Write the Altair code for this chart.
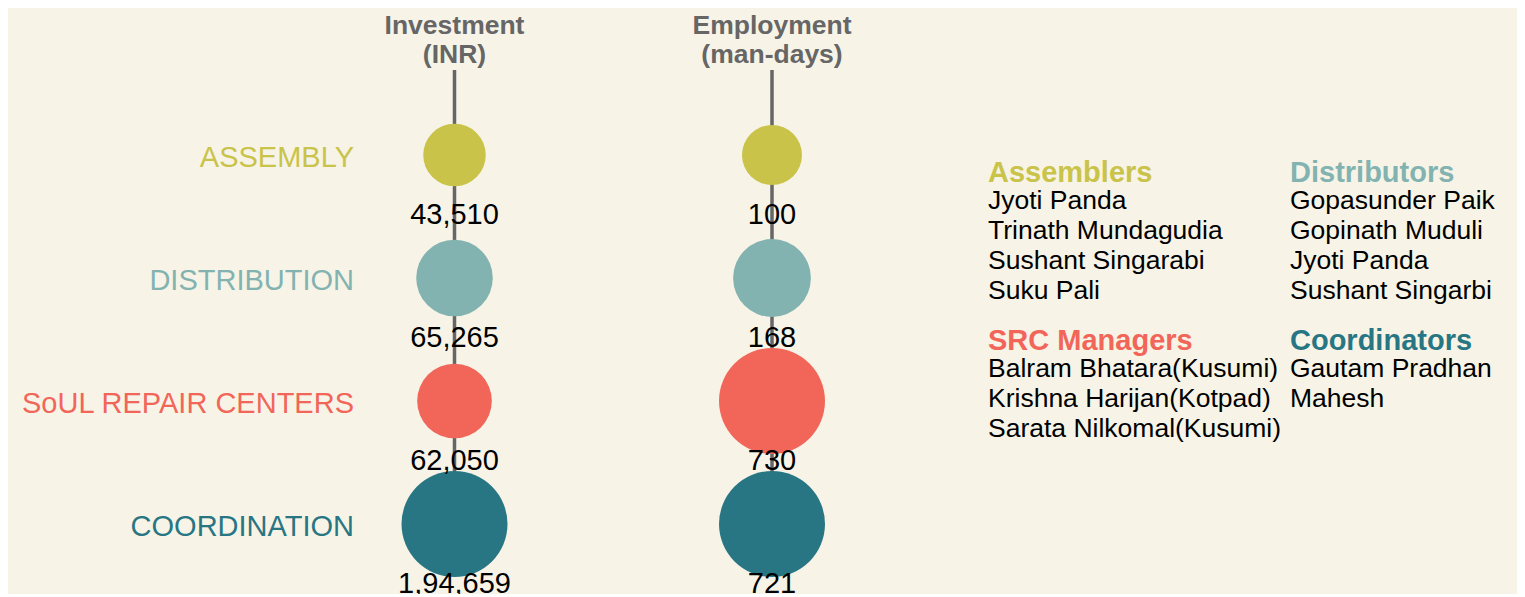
import altair as alt
import pandas as pd

# ---- data ----
categories = ["ASSEMBLY", "DISTRIBUTION", "SoUL REPAIR CENTERS", "COORDINATION"]
cat_colors = ["#c9c34a", "#83b3b0", "#f2665a", "#287683"]
metrics = ["Investment\n(INR)", "Employment\n(man-days)"]
investment = [43510, 65265, 62050, 194659]
employment = [100, 168, 730, 721]

group_titles = ["Assemblers", "Distributors", "SRC Managers", "Coordinators"]
group_category = ["ASSEMBLY", "DISTRIBUTION", "SoUL REPAIR CENTERS", "COORDINATION"]
group_members = [
    ["Jyoti Panda", "Trinath Mundagudia", "Sushant Singarabi", "Suku Pali"],
    ["Gopasunder Paik", "Gopinath Muduli", "Jyoti Panda", "Sushant Singarbi"],
    ["Balram Bhatara(Kusumi)", "Krishna Harijan(Kotpad)", "Sarata Nilkomal(Kusumi)"],
    ["Gautam Pradhan", "Mahesh"],
]


def indian_format(n):
    s = str(int(n))
    if len(s) <= 3:
        return s
    last3 = s[-3:]
    rest = s[:-3]
    parts = []
    while len(rest) > 2:
        parts.insert(0, rest[-2:])
        rest = rest[:-2]
    if rest:
        parts.insert(0, rest)
    return ",".join(parts) + "," + last3


inv_df = pd.DataFrame({"metric": metrics[0], "category": categories, "value": investment,
                       "label": [indian_format(v) for v in investment]})
emp_df = pd.DataFrame({"metric": metrics[1], "category": categories, "value": employment,
                       "label": [indian_format(v) for v in employment]})
all_df = pd.concat([inv_df, emp_df], ignore_index=True)
cat_df = pd.DataFrame({"category": categories})
met_df = pd.DataFrame({"metric": metrics, "category": categories[-1]})

BG = "#f7f4e7"
FONT = "Liberation Sans"

xs = alt.Scale(type="point", domain=metrics, range=[446.5, 764], padding=0)
ys = alt.Scale(type="point", domain=categories, range=[147, 516], padding=0)
cs = alt.Scale(domain=categories, range=cat_colors)

X = alt.X("metric:N", scale=xs, axis=None)
Y = alt.Y("category:N", scale=ys, axis=None, sort=categories)
C = alt.Color("category:N", scale=cs, legend=None)

rules = alt.Chart(met_df).mark_rule(color="#666666", strokeWidth=3.5).encode(
    x=X, y=Y, y2=alt.value(62)
)

titles = alt.Chart(met_df).mark_text(
    font=FONT, fontSize=26.5, fontWeight="bold", color="#666666",
    lineBreak="\n", lineHeight=29, baseline="alphabetic", align="center"
).encode(x=X, y=alt.value(26), text="metric:N")

inv_circles = alt.Chart(inv_df).mark_circle(opacity=1).encode(
    x=X, y=Y, color=C,
    size=alt.Size("value:Q", scale=alt.Scale(domain=[0, 125000], range=[0, 11236], clamp=True), legend=None),
)
emp_circles = alt.Chart(emp_df).mark_circle(opacity=1).encode(
    x=X, y=Y, color=C,
    size=alt.Size("value:Q", scale=alt.Scale(domain=[0, 312], range=[0, 11236], clamp=True), legend=None),
)

values = alt.Chart(all_df).mark_text(
    font=FONT, fontSize=29, color="#000000", baseline="middle", align="center", dy=60
).encode(x=X, y=Y, text="label:N")

cat_labels = alt.Chart(cat_df).mark_text(
    font=FONT, fontSize=29, baseline="middle", align="right", dy=3
).encode(x=alt.value(346), y=Y, text="category:N", color=C)

layers = [rules, titles, inv_circles, emp_circles, values, cat_labels]

# people lists (2x2 grid)
col_x = [980, 1282]
row_y = [174, 342]
for i, (gt, gc, mem) in enumerate(zip(group_titles, group_category, group_members)):
    cx = col_x[i % 2]
    ry = row_y[i // 2]
    gdf = pd.DataFrame({"title": [gt], "category": [gc], "names": ["\n".join(mem)]})
    head = alt.Chart(gdf).mark_text(
        font=FONT, fontSize=29, fontWeight="bold", align="left", baseline="alphabetic"
    ).encode(x=alt.value(cx), y=alt.value(ry), text="title:N", color=C)
    body = alt.Chart(gdf).mark_text(
        font=FONT, fontSize=26.5, color="#000000", align="left", baseline="alphabetic",
        lineBreak="\n", lineHeight=30
    ).encode(x=alt.value(cx), y=alt.value(ry + 26.6), text="names:N")
    layers += [head, body]

chart = alt.layer(*layers).resolve_scale(size="independent").properties(
    width=1509, height=586, padding=0, autosize=alt.AutoSizeParams(type="none"),
    background=BG
).configure_view(stroke=None, fill=BG)

chart.save("out.html", embed_options={"renderer": "svg", "actions": False})
